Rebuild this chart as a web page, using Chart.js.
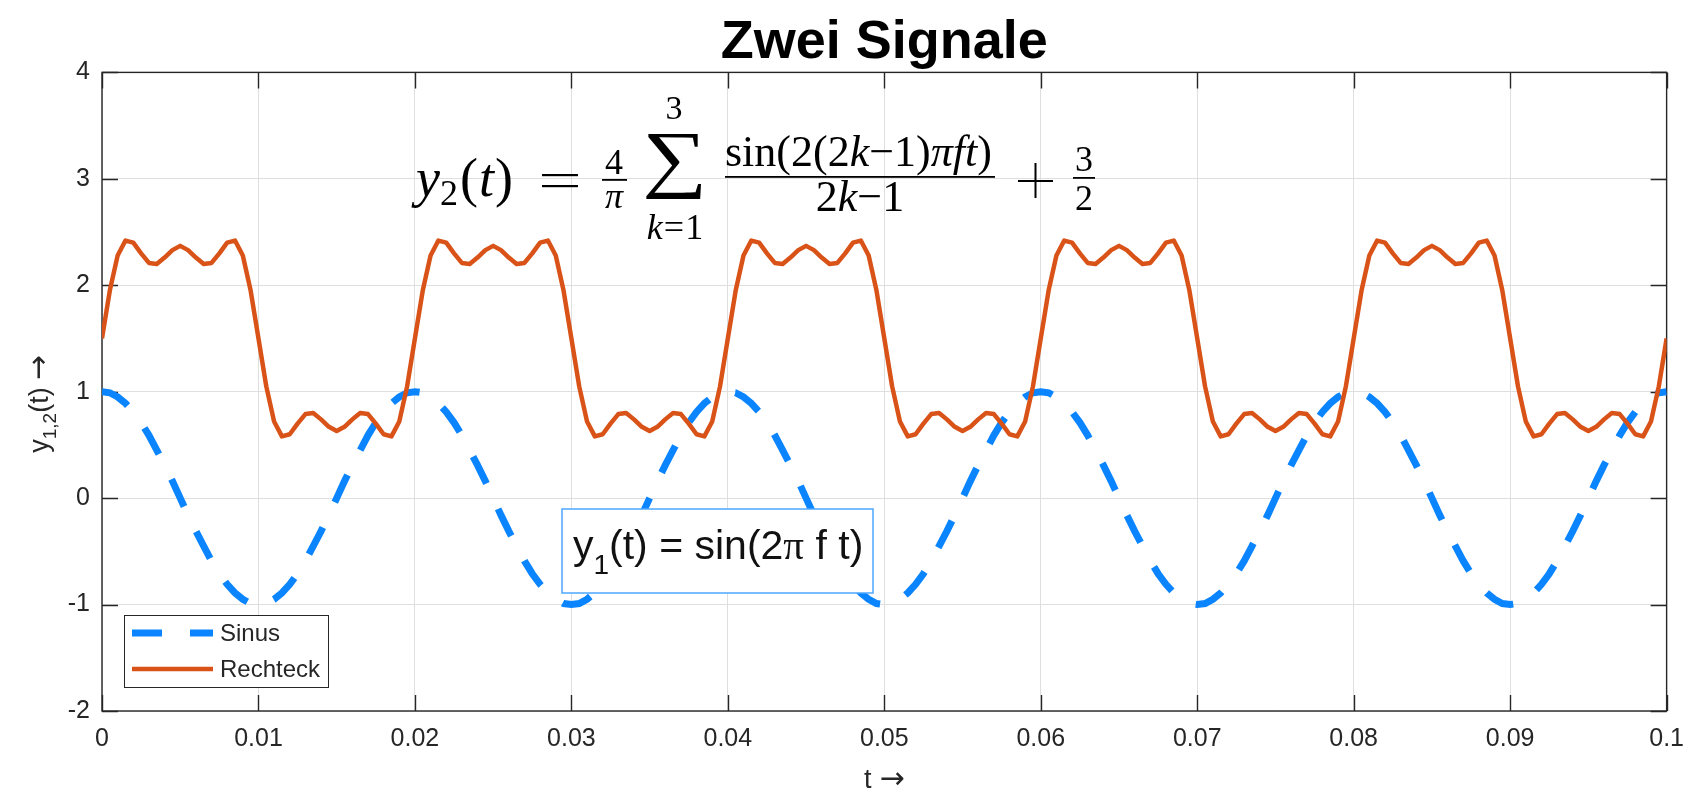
<!DOCTYPE html>
<html lang="de">
<head>
<meta charset="UTF-8" />
<title>Zwei Signale</title>
<script src="https://cdn.jsdelivr.net/npm/chart.js"></script>
<style>
  html, body { margin: 0; padding: 0; background: #fff; }
  #wrap { width: 1697px; height: 793px; }
</style>
</head>
<body>
<div id="wrap"><canvas id="sig" width="1697" height="793"></canvas></div>
<script>
  // Abtastzeitpunkte t (s)
  const tValues = [
    0, 0.0005, 0.001, 0.0015, 0.002, 0.0025, 0.003, 0.0035, 0.004, 0.0045, 0.005, 0.0055, 0.006, 0.0065, 0.007, 0.0075, 0.008, 0.0085, 0.009, 0.0095,
    0.01, 0.0105, 0.011, 0.0115, 0.012, 0.0125, 0.013, 0.0135, 0.014, 0.0145, 0.015, 0.0155, 0.016, 0.0165, 0.017, 0.0175, 0.018, 0.0185, 0.019, 0.0195,
    0.02, 0.0205, 0.021, 0.0215, 0.022, 0.0225, 0.023, 0.0235, 0.024, 0.0245, 0.025, 0.0255, 0.026, 0.0265, 0.027, 0.0275, 0.028, 0.0285, 0.029, 0.0295,
    0.03, 0.0305, 0.031, 0.0315, 0.032, 0.0325, 0.033, 0.0335, 0.034, 0.0345, 0.035, 0.0355, 0.036, 0.0365, 0.037, 0.0375, 0.038, 0.0385, 0.039, 0.0395,
    0.04, 0.0405, 0.041, 0.0415, 0.042, 0.0425, 0.043, 0.0435, 0.044, 0.0445, 0.045, 0.0455, 0.046, 0.0465, 0.047, 0.0475, 0.048, 0.0485, 0.049, 0.0495,
    0.05, 0.0505, 0.051, 0.0515, 0.052, 0.0525, 0.053, 0.0535, 0.054, 0.0545, 0.055, 0.0555, 0.056, 0.0565, 0.057, 0.0575, 0.058, 0.0585, 0.059, 0.0595,
    0.06, 0.0605, 0.061, 0.0615, 0.062, 0.0625, 0.063, 0.0635, 0.064, 0.0645, 0.065, 0.0655, 0.066, 0.0665, 0.067, 0.0675, 0.068, 0.0685, 0.069, 0.0695,
    0.07, 0.0705, 0.071, 0.0715, 0.072, 0.0725, 0.073, 0.0735, 0.074, 0.0745, 0.075, 0.0755, 0.076, 0.0765, 0.077, 0.0775, 0.078, 0.0785, 0.079, 0.0795,
    0.08, 0.0805, 0.081, 0.0815, 0.082, 0.0825, 0.083, 0.0835, 0.084, 0.0845, 0.085, 0.0855, 0.086, 0.0865, 0.087, 0.0875, 0.088, 0.0885, 0.089, 0.0895,
    0.09, 0.0905, 0.091, 0.0915, 0.092, 0.0925, 0.093, 0.0935, 0.094, 0.0945, 0.095, 0.0955, 0.096, 0.0965, 0.097, 0.0975, 0.098, 0.0985, 0.099, 0.0995,
    0.1
  ];

  // y1(t)
  const sinus = [
    1.00, 0.99, 0.95, 0.89, 0.81, 0.71, 0.59, 0.45, 0.31, 0.16, 0.00, -0.16, -0.31, -0.45, -0.59, -0.71, -0.81, -0.89, -0.95, -0.99,
    -1.00, -0.99, -0.95, -0.89, -0.81, -0.71, -0.59, -0.45, -0.31, -0.16, 0.00, 0.16, 0.31, 0.45, 0.59, 0.71, 0.81, 0.89, 0.95, 0.99,
    1.00, 0.99, 0.95, 0.89, 0.81, 0.71, 0.59, 0.45, 0.31, 0.16, 0.00, -0.16, -0.31, -0.45, -0.59, -0.71, -0.81, -0.89, -0.95, -0.99,
    -1.00, -0.99, -0.95, -0.89, -0.81, -0.71, -0.59, -0.45, -0.31, -0.16, 0.00, 0.16, 0.31, 0.45, 0.59, 0.71, 0.81, 0.89, 0.95, 0.99,
    1.00, 0.99, 0.95, 0.89, 0.81, 0.71, 0.59, 0.45, 0.31, 0.16, 0.00, -0.16, -0.31, -0.45, -0.59, -0.71, -0.81, -0.89, -0.95, -0.99,
    -1.00, -0.99, -0.95, -0.89, -0.81, -0.71, -0.59, -0.45, -0.31, -0.16, 0.00, 0.16, 0.31, 0.45, 0.59, 0.71, 0.81, 0.89, 0.95, 0.99,
    1.00, 0.99, 0.95, 0.89, 0.81, 0.71, 0.59, 0.45, 0.31, 0.16, 0.00, -0.16, -0.31, -0.45, -0.59, -0.71, -0.81, -0.89, -0.95, -0.99,
    -1.00, -0.99, -0.95, -0.89, -0.81, -0.71, -0.59, -0.45, -0.31, -0.16, 0.00, 0.16, 0.31, 0.45, 0.59, 0.71, 0.81, 0.89, 0.95, 0.99,
    1.00, 0.99, 0.95, 0.89, 0.81, 0.71, 0.59, 0.45, 0.31, 0.16, 0.00, -0.16, -0.31, -0.45, -0.59, -0.71, -0.81, -0.89, -0.95, -0.99,
    -1.00, -0.99, -0.95, -0.89, -0.81, -0.71, -0.59, -0.45, -0.31, -0.16, 0.00, 0.16, 0.31, 0.45, 0.59, 0.71, 0.81, 0.89, 0.95, 0.99,
    1.00
  ];

  // y2(t)
  const rechteck = [
    1.50, 1.95, 2.28, 2.42, 2.40, 2.30, 2.21, 2.20, 2.26, 2.33, 2.37, 2.33, 2.26, 2.20, 2.21, 2.30, 2.40, 2.42, 2.28, 1.95,
    1.50, 1.05, 0.72, 0.58, 0.60, 0.70, 0.79, 0.80, 0.74, 0.67, 0.63, 0.67, 0.74, 0.80, 0.79, 0.70, 0.60, 0.58, 0.72, 1.05,
    1.50, 1.95, 2.28, 2.42, 2.40, 2.30, 2.21, 2.20, 2.26, 2.33, 2.37, 2.33, 2.26, 2.20, 2.21, 2.30, 2.40, 2.42, 2.28, 1.95,
    1.50, 1.05, 0.72, 0.58, 0.60, 0.70, 0.79, 0.80, 0.74, 0.67, 0.63, 0.67, 0.74, 0.80, 0.79, 0.70, 0.60, 0.58, 0.72, 1.05,
    1.50, 1.95, 2.28, 2.42, 2.40, 2.30, 2.21, 2.20, 2.26, 2.33, 2.37, 2.33, 2.26, 2.20, 2.21, 2.30, 2.40, 2.42, 2.28, 1.95,
    1.50, 1.05, 0.72, 0.58, 0.60, 0.70, 0.79, 0.80, 0.74, 0.67, 0.63, 0.67, 0.74, 0.80, 0.79, 0.70, 0.60, 0.58, 0.72, 1.05,
    1.50, 1.95, 2.28, 2.42, 2.40, 2.30, 2.21, 2.20, 2.26, 2.33, 2.37, 2.33, 2.26, 2.20, 2.21, 2.30, 2.40, 2.42, 2.28, 1.95,
    1.50, 1.05, 0.72, 0.58, 0.60, 0.70, 0.79, 0.80, 0.74, 0.67, 0.63, 0.67, 0.74, 0.80, 0.79, 0.70, 0.60, 0.58, 0.72, 1.05,
    1.50, 1.95, 2.28, 2.42, 2.40, 2.30, 2.21, 2.20, 2.26, 2.33, 2.37, 2.33, 2.26, 2.20, 2.21, 2.30, 2.40, 2.42, 2.28, 1.95,
    1.50, 1.05, 0.72, 0.58, 0.60, 0.70, 0.79, 0.80, 0.74, 0.67, 0.63, 0.67, 0.74, 0.80, 0.79, 0.70, 0.60, 0.58, 0.72, 1.05,
    1.50
  ];

  const xTicks = [0, 0.01, 0.02, 0.03, 0.04, 0.05, 0.06, 0.07, 0.08, 0.09, 0.1];
  const xTickLabels = ['0', '0.01', '0.02', '0.03', '0.04', '0.05', '0.06', '0.07', '0.08', '0.09', '0.1'];
  const yTicks = [-2, -1, 0, 1, 2, 3, 4];
  const yTickLabels = ['-2', '-1', '0', '1', '2', '3', '4'];

  const AX = '#262626';
  const SANS = '"Liberation Sans", Arial, Helvetica, sans-serif';
  const SERIF = '"Liberation Serif", "Times New Roman", serif';
  const ARROW = '"DejaVu Sans", sans-serif';

  const pts = ys => tValues.map((t, i) => ({ x: t, y: ys[i] }));

  // Text in Stücken zeichnen (für Indizes, kursive Variablen)
  function runs(ctx, x, y, parts) {
    parts.forEach(p => {
      ctx.font = p.f;
      x += p.dx || 0;
      ctx.fillText(p.s, x, y + (p.dy || 0));
      x += ctx.measureText(p.s).width;
    });
    return x;
  }
  function runsWidth(ctx, parts) {
    let w = 0;
    parts.forEach(p => { ctx.font = p.f; w += ctx.measureText(p.s).width + (p.dx || 0); });
    return w;
  }
  function centered(ctx, s, font, cx, y) {
    ctx.font = font;
    ctx.textAlign = 'center';
    ctx.fillText(s, cx, y);
    ctx.textAlign = 'left';
  }
  // Zeichen in ein Rechteck einpassen
  function fitGlyph(ctx, s, font, x0, y0, x1, y1) {
    ctx.font = font;
    const m = ctx.measureText(s);
    const w = m.actualBoundingBoxLeft + m.actualBoundingBoxRight;
    const h = m.actualBoundingBoxAscent + m.actualBoundingBoxDescent;
    ctx.save();
    ctx.translate(x0, y0);
    ctx.scale((x1 - x0) / w, (y1 - y0) / h);
    ctx.fillText(s, m.actualBoundingBoxLeft, m.actualBoundingBoxAscent);
    ctx.restore();
  }

  // Achsenrahmen mit nach innen zeigenden Ticks
  const frame = {
    id: 'frame',
    beforeDatasetsDraw(chart) {
      const { ctx, chartArea: a, scales: { x, y } } = chart;
      const len = 16;
      ctx.save();
      ctx.strokeStyle = AX;
      ctx.lineWidth = 1.4;
      ctx.beginPath();
      xTicks.forEach(v => {
        const px = Math.round(x.getPixelForValue(v)) + 0.5;
        ctx.moveTo(px, a.bottom); ctx.lineTo(px, a.bottom - len);
        ctx.moveTo(px, a.top); ctx.lineTo(px, a.top + len);
      });
      yTicks.forEach(v => {
        const py = Math.round(y.getPixelForValue(v)) + 0.5;
        ctx.moveTo(a.left, py); ctx.lineTo(a.left + len, py);
        ctx.moveTo(a.right, py); ctx.lineTo(a.right - len, py);
      });
      ctx.stroke();
      ctx.strokeRect(a.left, a.top, a.right - a.left, a.bottom - a.top);
      ctx.restore();
    }
  };

  // Achsentitel, Legende, Textbox und Formel
  const decor = {
    id: 'decor',
    afterDraw(chart) {
      const { ctx, chartArea: a } = chart;
      ctx.save();
      ctx.textBaseline = 'alphabetic';
      ctx.fillStyle = AX;

      // x-Achse: t →
      const xl = [
        { s: 't', f: '27px ' + SANS },
        { s: '→', f: '30px ' + ARROW, dx: 8 }
      ];
      runs(ctx, (a.left + a.right) / 2 - runsWidth(ctx, xl) / 2, 788, xl);

      // y-Achse: y_{1,2}(t) →
      const yl = [
        { s: 'y', f: '27px ' + SANS },
        { s: '1,2', f: '19px ' + SANS, dy: 8 },
        { s: '(t)', f: '27px ' + SANS },
        { s: '→', f: '30px ' + ARROW, dx: 7 }
      ];
      ctx.save();
      ctx.translate(48, 404);
      ctx.rotate(-Math.PI / 2);
      runs(ctx, -runsWidth(ctx, yl) / 2, 0, yl);
      ctx.restore();

      // Legende
      ctx.fillStyle = '#fff';
      ctx.fillRect(124, 615, 204, 72);
      ctx.strokeStyle = AX;
      ctx.lineWidth = 1;
      ctx.strokeRect(124.5, 615.5, 204, 72);
      const rows = [633, 669];
      chart.data.datasets.forEach((ds, i) => {
        ctx.save();
        ctx.strokeStyle = ds.borderColor;
        ctx.lineWidth = ds.borderWidth;
        ctx.lineCap = 'butt';
        ctx.setLineDash(ds.borderDash || []);
        ctx.beginPath();
        ctx.moveTo(132, rows[i]);
        ctx.lineTo(213, rows[i]);
        ctx.stroke();
        ctx.restore();
        ctx.fillStyle = AX;
        ctx.font = '24px ' + SANS;
        ctx.textBaseline = 'middle';
        ctx.fillText(ds.label, 220, rows[i] + 1);
        ctx.textBaseline = 'alphabetic';
      });

      // Textbox y1(t) = sin(2π f t)
      ctx.fillStyle = '#fff';
      ctx.fillRect(562, 509, 311, 84);
      ctx.strokeStyle = '#4da6ff';
      ctx.lineWidth = 1.5;
      ctx.strokeRect(562, 509, 311, 84);
      ctx.fillStyle = '#111';
      runs(ctx, 573, 559, [
        { s: 'y', f: '41px ' + SANS },
        { s: '1', f: '28px ' + SANS, dy: 15 },
        { s: '(t) = sin(2', f: '41px ' + SANS },
        { s: 'π', f: '41px ' + SERIF },
        { s: ' f t)', f: '41px ' + SANS }
      ]);

      // Formel y2(t)
      ctx.fillStyle = '#000';
      const it = s => 'italic ' + s + 'px ' + SERIF;
      const rm = s => s + 'px ' + SERIF;
      runs(ctx, 416, 196, [
        { s: 'y', f: it(54) },
        { s: '2', f: rm(36), dy: 9 },
        { s: '(', f: rm(54), dx: 2 },
        { s: 't', f: it(54), dx: 1 },
        { s: ')', f: rm(54), dx: 1 }
      ]);
      // =
      ctx.fillRect(542, 174, 36, 2.2);
      ctx.fillRect(542, 185, 36, 2.2);
      // 4/π
      centered(ctx, '4', rm(36), 614, 174);
      ctx.fillRect(602, 179, 25, 1.8);
      centered(ctx, 'π', it(36), 614, 208);
      // Summe
      fitGlyph(ctx, '∑', rm(80), 646, 134, 702, 200);
      centered(ctx, '3', rm(34), 674, 119);
      const lim = [
        { s: 'k', f: it(36) },
        { s: '=', f: rm(36), dx: 1 },
        { s: '1', f: rm(36), dx: 1 }
      ];
      runs(ctx, 675 - runsWidth(ctx, lim) / 2, 239, lim);
      // Bruch
      runs(ctx, 725, 166, [
        { s: 'sin(2(2', f: rm(44) },
        { s: 'k', f: it(44) },
        { s: '−1)', f: rm(44) },
        { s: 'πft', f: it(44) },
        { s: ')', f: rm(44) }
      ]);
      ctx.fillRect(725, 176, 270, 1.8);
      const den = [
        { s: '2', f: rm(44) },
        { s: 'k', f: it(44) },
        { s: '−1', f: rm(44) }
      ];
      runs(ctx, 860 - runsWidth(ctx, den) / 2, 211, den);
      // +
      ctx.fillRect(1018, 180, 35, 2);
      ctx.fillRect(1034.5, 163, 2, 35);
      // 3/2
      centered(ctx, '3', rm(36), 1084, 171);
      ctx.fillRect(1073, 177, 22, 1.8);
      centered(ctx, '2', rm(36), 1084, 210);

      ctx.restore();
    }
  };

  new Chart(document.getElementById('sig').getContext('2d'), {
    type: 'line',
    data: {
      datasets: [
        {
          label: 'Sinus',
          data: pts(sinus),
          borderColor: '#0a84ff',
          borderWidth: 7,
          borderDash: [30, 28],
          borderCapStyle: 'butt',
          pointRadius: 0,
          tension: 0,
          order: 2
        },
        {
          label: 'Rechteck',
          data: pts(rechteck),
          borderColor: '#d95319',
          borderWidth: 4.5,
          borderJoinStyle: 'round',
          pointRadius: 0,
          tension: 0,
          order: 1
        }
      ]
    },
    options: {
      responsive: false,
      animation: false,
      devicePixelRatio: 1,
      layout: { padding: { left: 0, right: 29, top: 0, bottom: 0 } },
      plugins: {
        legend: { display: false },
        tooltip: { enabled: false },
        title: {
          display: true,
          // nur so breit wie die Achsenfläche, damit der Titel darüber mittig steht
          fullSize: false,
          text: 'Zwei Signale',
          color: '#000',
          font: { family: SANS, size: 54, weight: 'bold', lineHeight: 1.1 },
          padding: { top: 13, bottom: 0 }
        }
      },
      scales: {
        x: {
          type: 'linear',
          min: 0,
          max: 0.1,
          afterBuildTicks: s => { s.ticks = xTicks.map(v => ({ value: v })); },
          afterFit: s => { s.height = 82; },
          ticks: {
            color: AX,
            font: { family: SANS, size: 25 },
            padding: 13,
            maxRotation: 0,
            autoSkip: false,
            callback: (v, i) => xTickLabels[i]
          },
          grid: { color: '#dfdfdf', drawTicks: false },
          border: { display: false }
        },
        y: {
          type: 'linear',
          min: -2,
          max: 4,
          afterBuildTicks: s => { s.ticks = yTicks.map(v => ({ value: v })); },
          afterFit: s => { s.width = 102; },
          ticks: {
            color: AX,
            font: { family: SANS, size: 25 },
            padding: 12,
            callback: (v, i) => yTickLabels[i]
          },
          grid: { color: '#dfdfdf', drawTicks: false },
          border: { display: false }
        }
      }
    },
    plugins: [frame, decor]
  });
</script>
</body>
</html>
